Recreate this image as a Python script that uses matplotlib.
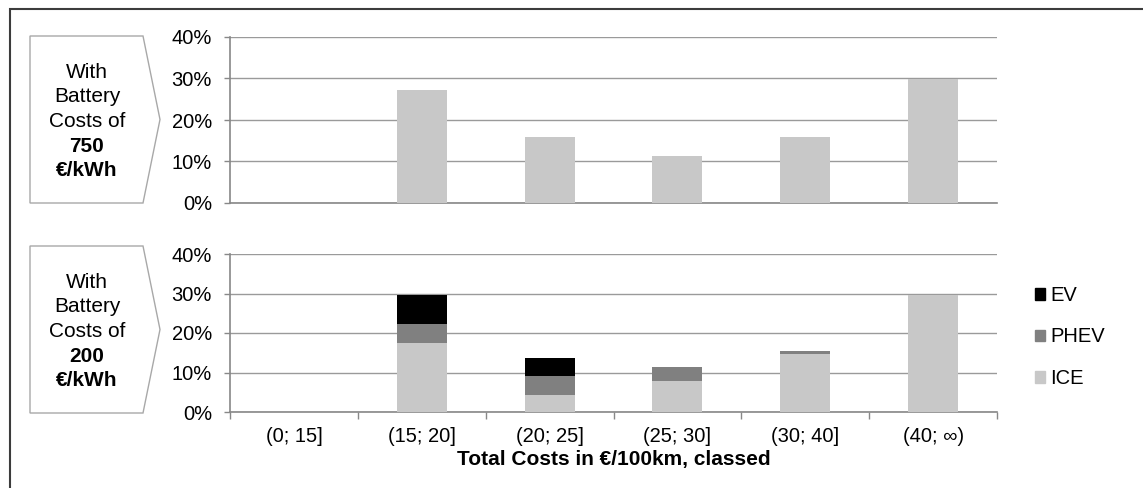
import matplotlib
matplotlib.use("Agg")
import matplotlib.pyplot as plt
import numpy as np
from matplotlib.patches import Polygon, Rectangle, Patch
from matplotlib.ticker import FixedLocator, FuncFormatter

plt.rcParams['font.family'] = ['Liberation Sans', 'DejaVu Sans']

categories = ['(0; 15]', '(15; 20]', '(20; 25]', '(25; 30]', '(30; 40]', '(40; ∞)']
ice_750 = [0, 27.2, 15.9, 11.3, 15.9, 29.8]
ice_200 = [0, 17.5, 4.2, 7.8, 14.8, 29.6]
phev_200 = [0, 4.9, 4.9, 3.7, 0.7, 0]
ev_200 = [0, 7.1, 4.5, 0, 0, 0]
y_ticks = [0, 10, 20, 30, 40]
series_names = ['EV', 'PHEV', 'ICE']
box_labels = [('With', 'Battery', 'Costs of', '750', '€/kWh'),
              ('With', 'Battery', 'Costs of', '200', '€/kWh')]

C_ICE = '#c8c8c8'
C_PHEV = '#808080'
C_EV = '#000000'
GRID = '#9a9a9a'

W, H = 1143, 488
fig = plt.figure(figsize=(W / 100, H / 100), dpi=100)

def fx(px):
    return px / W

def fy(py):
    return 1 - py / H

ax_l, ax_r = 230, 997
ax1 = fig.add_axes([fx(ax_l), fy(203), fx(ax_r - ax_l), (203 - 37) / H])
ax2 = fig.add_axes([fx(ax_l), fy(412), fx(ax_r - ax_l), (412 - 254) / H])

x = np.arange(len(categories))
bw = 0.39
FS = 14.5
FS_BOX = 15

ax1.bar(x, ice_750, bw, color=C_ICE, zorder=3)
ice_b = ax2.bar(x, ice_200, bw, color=C_ICE, zorder=3)
phev_b = ax2.bar(x, phev_200, bw, bottom=ice_200, color=C_PHEV, zorder=3)
bot2 = [a + b for a, b in zip(ice_200, phev_200)]
ev_b = ax2.bar(x, ev_200, bw, bottom=bot2, color=C_EV, zorder=3)

for ax in (ax1, ax2):
    ax.set_xlim(-0.5, len(categories) - 0.5)
    ax.set_ylim(0, 40)
    ax.set_yticks(y_ticks)
    ax.yaxis.set_major_formatter(FuncFormatter(lambda v, p: f"{int(v)}%"))
    ax.grid(axis='y', color=GRID, linewidth=1.0, zorder=0)
    ax.set_axisbelow(True)
    for s in ('top', 'right'):
        ax.spines[s].set_visible(False)
    for s in ('left', 'bottom'):
        ax.spines[s].set_color('#888888')
        ax.spines[s].set_linewidth(1.2)
    ax.tick_params(axis='y', direction='out', length=4, width=1, color='#888888',
                   labelsize=FS, pad=9)
    ax.set_facecolor('none')

ax1.set_xticks([])
ax2.xaxis.set_major_locator(FixedLocator(np.arange(-0.5, len(categories), 1.0)))
ax2.xaxis.set_minor_locator(FixedLocator(x))
ax2.set_xticklabels([], minor=False)
ax2.set_xticklabels(categories, minor=True)
ax2.tick_params(axis='x', which='major', direction='out', length=5, width=1, color='#888888')
ax2.tick_params(axis='x', which='minor', length=0, labelsize=FS, pad=11)
ax2.set_xlabel('Total Costs in €/100km, classed', fontsize=FS_BOX, fontweight='bold', labelpad=3)

# legend
handles = [Patch(color=C_EV), Patch(color=C_PHEV), Patch(color=C_ICE)]
fig.legend(handles, series_names, loc='center left', bbox_to_anchor=(fx(1035), fy(337)),
           frameon=False, fontsize=FS, handlelength=0.5, handleheight=0.5,
           handletextpad=0.25, labelspacing=1.12, borderpad=0, borderaxespad=0)

# arrow-shaped label boxes
def arrow_box(top, bottom, lines):
    mid = (top + bottom) / 2
    pts = [(30, top), (143, top), (160, mid), (143, bottom), (30, bottom)]
    poly = Polygon([(fx(px), fy(py)) for px, py in pts], closed=True,
                   transform=fig.transFigure, facecolor='white',
                   edgecolor='#a8a8a8', linewidth=1.0)
    fig.patches.append(poly)
    cy = mid + 2
    for i, t in enumerate(lines):
        yy = cy + (i - 2) * 24.5
        fig.text(fx(87), fy(yy), t, ha='center', va='center', fontsize=FS_BOX,
                 fontweight='bold' if i >= 3 else 'normal')

arrow_box(36, 203, box_labels[0])
arrow_box(246, 413, box_labels[1])

# outer frame (only top/left visible)
frame = Rectangle((fx(9.5), fy(600)), 2.0, (600 - 8.5) / H, transform=fig.transFigure,
                  fill=False, edgecolor='#3c3c3c', linewidth=1.5)
fig.patches.append(frame)

fig.savefig('out.png', dpi=100)
